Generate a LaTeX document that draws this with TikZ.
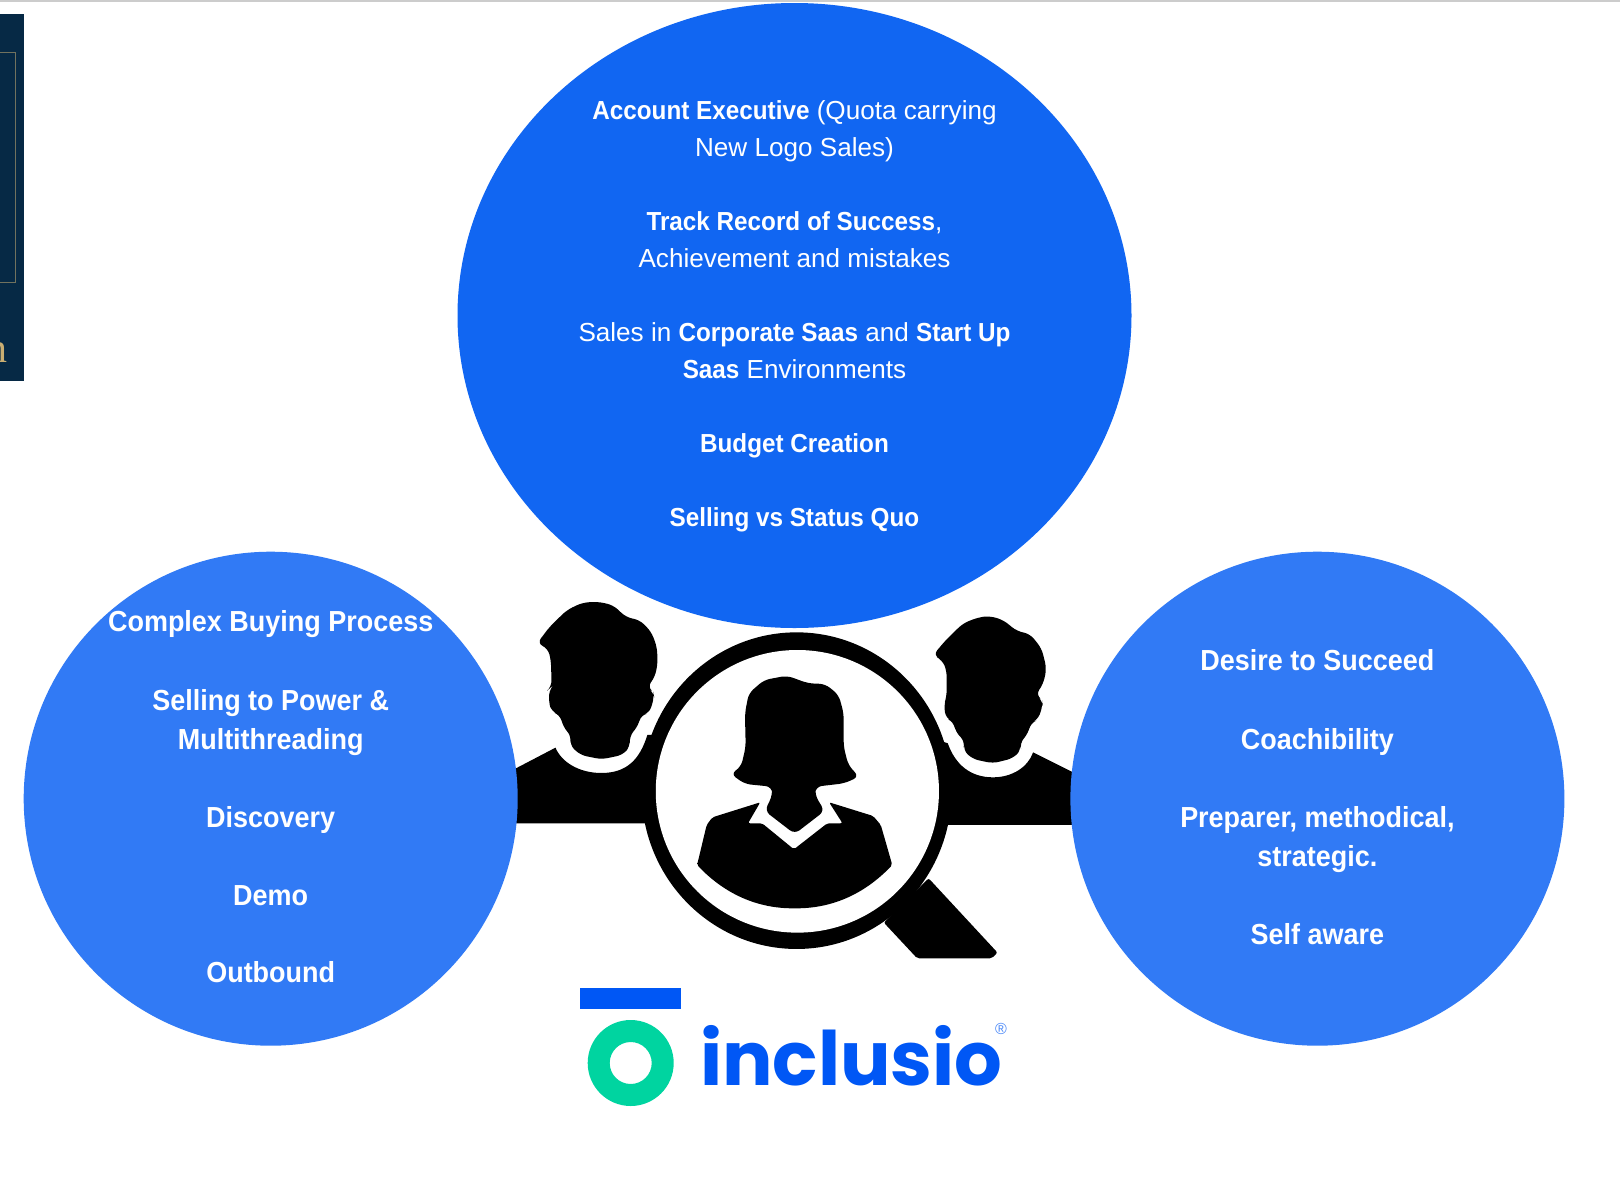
\documentclass[tikz,border=0pt]{standalone}
\usepackage{fontspec}
\setmainfont{Liberation Sans}[BoldFeatures={FakeStretch=0.93}]
\newfontfamily\logofont{Poppins}
\newfontfamily\serifcut{Liberation Serif}
\definecolor{topblue}{HTML}{1166F2}
\definecolor{sideblue}{HTML}{317AF5}
\definecolor{logoblue}{HTML}{0057F5}
\definecolor{logogreen}{HTML}{00D4A0}
\definecolor{panel}{HTML}{062945}
\definecolor{gold}{HTML}{C9AE72}
\tikzset{
  blob/.style={fill=black,draw=none,rounded corners=2pt},
  softblob/.style={fill=black,draw=none,rounded corners=6pt},
  toptext/.style={anchor=base,text=white,inner sep=0pt,font=\fontsize{26.1}{30}\selectfont},
  sidetext/.style={anchor=base,text=white,inner sep=0pt,font=\fontsize{29}{32}\selectfont\bfseries},
}
\begin{document}
\begin{tikzpicture}[x=1pt,y=-1pt]
\useasboundingbox (0,0) rectangle (1620,1176);
\fill[white] (0,0) rectangle (1620,1176);
\fill[black!20] (0,0) rectangle (1620,1.5);
% left panel
\fill[panel] (0,14) rectangle (24,381);
\draw[gold!55!panel,line width=1pt] (-2,52.5) -- (15.5,52.5) -- (15.5,282) -- (-2,282);
\begin{scope}
\clip (0,300) rectangle (24,381);
\node[anchor=base east,inner sep=0pt,text=gold,font=\serifcut\fontsize{42}{42}\selectfont] (cutn) at (8,362) {n};
\end{scope}
% people icon, traced in zoom coordinates
\begin{scope}[shift={(500,580)},x=0.3827pt,y=-0.3333pt]
\fill[black] (20,578) -- (145,503) .. controls (160,545) and (205,579) .. (265,579) .. controls (330,579) and (365,540) .. (385,465) -- (430,465) -- (430,730) -- (20,730) -- cycle;
\fill[black] (1393,517) -- (1520,590) -- (1520,735) -- (1120,735) -- (1120,470) -- (1170,490) .. controls (1190,555) and (1230,592) .. (1288,592) .. controls (1340,592) and (1380,560) .. (1393,517) -- cycle;
\fill[softblob] (97,190) -- (130,140) -- (175,90) -- (215,68) -- (255,65) -- (295,75) -- (330,112) -- (365,120) -- (395,155) -- (410,200) -- (412,250) -- (405,290) -- (385,322) -- (400,335) -- (403,352) -- (390,400) -- (368,405) -- (362,435) -- (338,470) -- (340,500) -- (320,525) -- (265,538) -- (210,525) -- (182,495) -- (187,470) -- (165,440) -- (157,405) -- (135,395) -- (127,365) -- (130,325) -- (135,320) -- (133,240) -- (125,205) -- cycle;
\fill[softblob] (1132,225) -- (1165,180) -- (1210,130) -- (1250,112) -- (1280,108) -- (1315,120) -- (1350,153) -- (1385,162) -- (1415,205) -- (1428,265) -- (1420,310) -- (1400,345) -- (1417,360) -- (1418,378) -- (1405,420) -- (1387,428) -- (1380,460) -- (1358,490) -- (1362,510) -- (1340,535) -- (1288,550) -- (1235,537) -- (1210,510) -- (1215,485) -- (1190,455) -- (1185,425) -- (1165,415) -- (1160,375) -- (1167,350) -- (1167,270) -- (1155,240) -- cycle;
% handle
\fill[blob] (1120,895) -- (1300,1118) -- (1285,1135) -- (1090,1135) -- (1003,1028) -- cycle;
% lens
\fill[black] (775,632) ellipse [x radius=405,y radius=475];
\fill[white] (777,634) ellipse [x radius=370,y radius=424];
% woman
\fill[softblob] (603,582) -- (630,560) -- (642,500) -- (640,400) -- (650,340) -- (690,300) -- (750,287) -- (805,310) -- (850,312) -- (885,345) -- (898,400) -- (898,500) -- (910,555) -- (938,590) -- (900,610) -- (825,620) -- (823,645) -- (848,693) -- (770,762) -- (692,693) -- (712,645) -- (710,620) -- (640,612) -- cycle;
\fill[blob] (515,855) -- (540,735) -- (555,712) -- (680,667) -- (648,730) -- (685,730) -- (768,808) -- (855,730) -- (895,730) -- (860,667) -- (975,708) -- (995,735) -- (1025,855) .. controls (950,945) and (865,985) .. (770,985) .. controls (675,985) and (590,945) .. (515,855) -- cycle;
\end{scope}
% circles
\fill[topblue] (794.5,315.5) ellipse [x radius=337,y radius=312.5];
\fill[sideblue] (270.7,798.7) circle (247);
\fill[sideblue] (1317.4,798.7) circle (247);
% top text
\node[toptext] (t1) at (794.5,119.5) {\textbf{Account Executive} (Quota carrying};
\node[toptext] (t2) at (794.5,156.5) {New Logo Sales)};
\node[toptext] (t3) at (794.5,230.5) {\textbf{Track Record of Success},};
\node[toptext] (t4) at (794.5,267.5) {Achievement and mistakes};
\node[toptext] (t5) at (794.5,341.5) {Sales in \textbf{Corporate Saas} and \textbf{Start Up}};
\node[toptext] (t6) at (794.5,378.5) {\textbf{Saas} Environments};
\node[toptext] (t7) at (794.5,452.5) {\textbf{Budget Creation}};
\node[toptext] (t8) at (794.5,526.5) {\textbf{Selling vs Status Quo}};
% left text
\node[sidetext] (l1) at (270.7,631) {Complex Buying Process};
\node[sidetext] (l2) at (270.7,710) {Selling to Power \&};
\node[sidetext] (l3) at (270.7,749) {Multithreading};
\node[sidetext] (l4) at (270.7,827) {Discovery};
\node[sidetext] (l5) at (270.7,905) {Demo};
\node[sidetext] (l6) at (270.7,982.5) {Outbound};
% right text
\node[sidetext] (r1) at (1317.4,670) {Desire to Succeed};
\node[sidetext] (r2) at (1317.4,749) {Coachibility};
\node[sidetext] (r3) at (1317.4,827) {Preparer, methodical,};
\node[sidetext] (r4) at (1317.4,866) {strategic.};
\node[sidetext] (r5) at (1317.4,944) {Self aware};
% logo
\fill[logoblue] (580,988) rectangle (681,1008.5);
\fill[logogreen,even odd rule] (630.7,1063) circle (43) (630.7,1063) circle (21);
\node[anchor=base west,inner sep=0pt,text=logoblue,font=\logofont\fontsize{75}{75}\selectfont\bfseries] (brand) at (700,1085) {inclusio};
\node[anchor=center,inner sep=0pt,text=logoblue!70,font=\fontsize{16}{16}\selectfont] (reg) at (1001,1029) {®};
\end{tikzpicture}
\end{document}
